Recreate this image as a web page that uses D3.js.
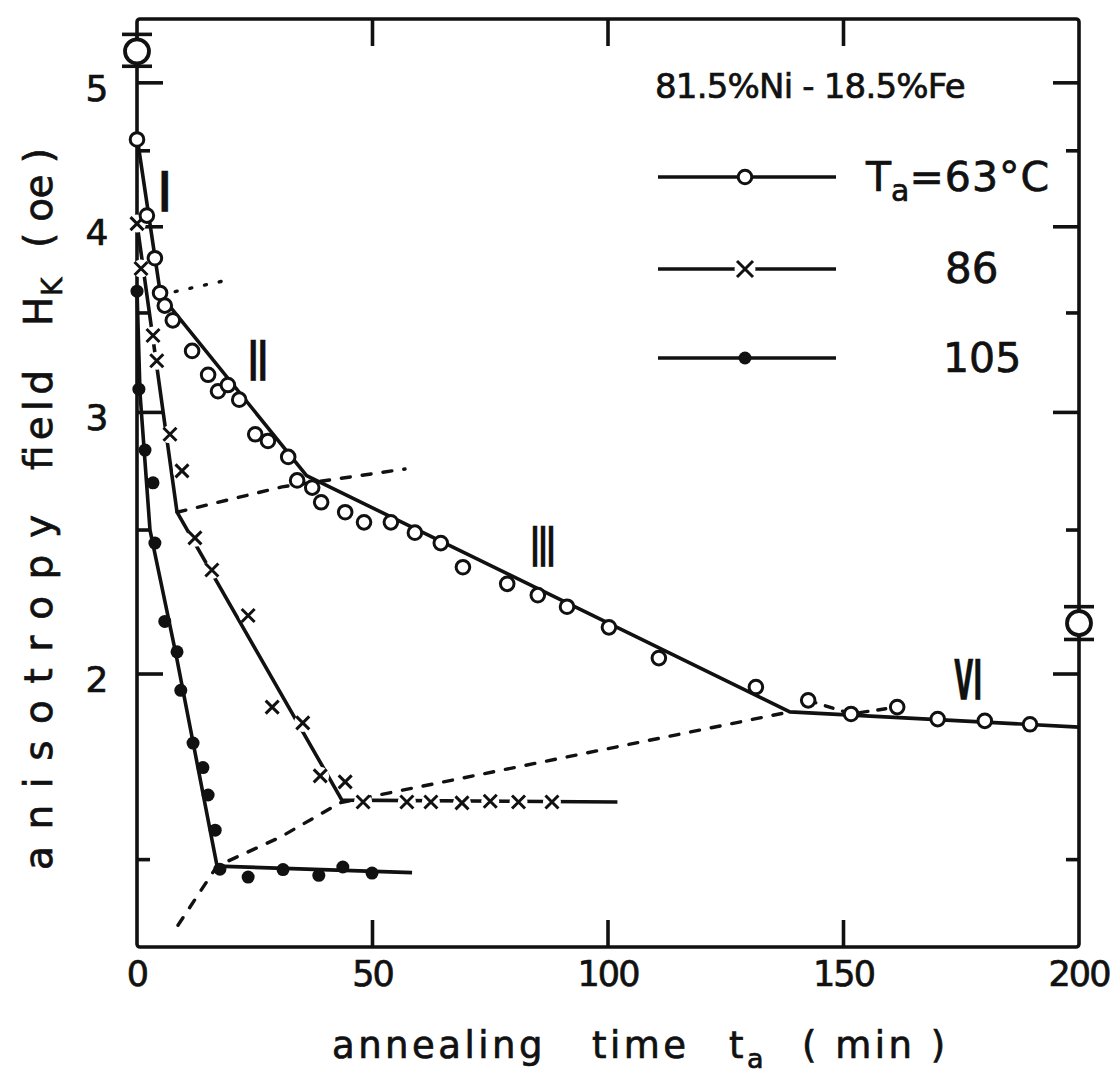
<!DOCTYPE html>
<html>
<head>
<meta charset="utf-8">
<script src="https://cdn.jsdelivr.net/npm/d3@7"></script>
<style>
  html, body { margin: 0; padding: 0; background: #fff; }
  svg { display: block; }
  text { font-family: "DejaVu Sans", "Liberation Sans", sans-serif; fill: #111; stroke: #111; stroke-width: 0.7px; }
</style>
</head>
<body>
<svg id="chart" width="1114" height="1085"></svg>
<script>
// ---- axis ticks ----
const xTicks = [0, 50, 100, 150, 200];
const yMajorTicks = [2, 3, 4, 5];
const yMinorTicks = [1.5, 2.5, 3.5, 4.5];

// ---- measured points: annealing time (min) vs anisotropy field Hk (oe) ----
// Ta = 63 C (open circles)
const t63  = [0, 2.1, 3.8, 4.9, 5.9, 7.6, 11.7, 15.1, 17.2, 19.3, 21.7, 25.1, 27.8, 32.1, 34.0, 37.2, 39.1,
              44.2, 48.2, 53.9, 59.0, 64.5, 69.2, 78.6, 85.1, 91.3, 100.2, 110.8, 131.4, 142.5, 151.6, 161.4,
              170.0, 180.0, 189.6];
const hk63 = [4.58, 4.07, 3.81, 3.61, 3.54, 3.46, 3.30, 3.18, 3.10, 3.13, 3.06, 2.90, 2.87, 2.80, 2.70, 2.67, 2.61,
              2.57, 2.53, 2.53, 2.49, 2.45, 2.36, 2.30, 2.26, 2.22, 2.15, 2.05, 1.96, 1.92, 1.88, 1.90,
              1.865, 1.86, 1.85];
// Ta = 86 C (crosses)
const t86  = [0, 0.85, 3.4, 4.2, 7.0, 9.55, 12.3, 15.9, 23.6, 28.7, 35.2, 38.9, 44.2, 48.0, 57.3, 62.4, 69.0, 75.0, 81.0, 88.1];
const hk86 = [4.02, 3.75, 3.38, 3.25, 2.90, 2.74, 2.47, 2.35, 2.19, 1.90, 1.854, 1.708, 1.692, 1.64, 1.64, 1.64, 1.638, 1.642, 1.64, 1.64];
// Ta = 105 C (filled dots)
const t105  = [0, 0.4, 1.7, 3.4, 3.8, 5.9, 8.5, 9.3, 11.9, 14.0, 15.1, 16.6, 17.6, 23.6, 31.0, 38.6, 43.7, 49.9];
const hk105 = [3.62, 3.11, 2.83, 2.69, 2.45, 2.17, 2.07, 1.95, 1.797, 1.73, 1.658, 1.57, 1.478, 1.46, 1.477, 1.464, 1.483, 1.469];

// ---- piecewise fitted stages ----
const fit63T  = [0, 5, 36, 138.6, 200];
const fit63H  = [4.6, 3.6, 2.72, 1.886, 1.842];
const fit86T  = [0, 8.5, 43.5, 102];
const fit86H  = [4.02, 2.57, 1.645, 1.64];
const fit105T = [0, 0.64, 2.76, 8.3, 17.0, 58.4];
const fit105H = [3.63, 3.09, 2.50, 2.06, 1.485, 1.47];

// ---- guide lines joining the stage break points ----
const guideLowT  = [8.7, 17.0, 30.4, 43.1, 138.6];
const guideLowH  = [1.355, 1.485, 1.553, 1.638, 1.886];
const guideMidT  = [8.5, 30.8, 56.9];
const guideMidH  = [2.57, 2.673, 2.748];
const guideTopT  = [5, 18.7];
const guideTopH  = [3.6, 3.68];
const guideVIT   = [142.5, 151.6, 161.4];
const guideVIH   = [1.92, 1.88, 1.90];

// ---- reference values with error bars (start and end) ----
const refT   = [0, 200];
const refH   = [5.25, 2.164];
const refLo  = [5.13, 2.11];
const refHi  = [5.39, 2.22];

// ---- stage labels ----
const stageNames = ["I", "II", "III", "VI"];
const stageT     = [5.9, 25.7, 86.2, 176.5];
const stageH     = [4.22, 3.25, 2.435, 1.98];

// ---- legend ----
const alloyLabel = "81.5%Ni - 18.5%Fe";
const legendTemps = ["63", "86", "105"];

const zip = (a, b) => a.map((v, i) => [v, b[i]]);

const svg = d3.select("#chart");
const plotLeft = 137, plotRight = 1079, plotTop = 19, plotBottom = 947;

const x = d3.scaleLinear().domain([0, 200]).range([plotLeft, plotRight]);
const y = d3.scaleLog().domain([1.31, 5.52]).range([plotBottom, plotTop]);

const ink = "#111";
const lw = 3.6;
const line = d3.line().x(d => x(d[0])).y(d => y(d[1]));

// ---- frame ----
svg.append("rect")
  .attr("x", plotLeft).attr("y", plotTop)
  .attr("width", plotRight - plotLeft).attr("height", plotBottom - plotTop)
  .attr("fill", "none").attr("stroke", ink).attr("stroke-width", lw)
  .attr("rx", 3);

// ticks pointing inward on all sides
const yMajLen = 26, yMinLen = 13, xLen = 27;
const axG = svg.append("g").attr("stroke", ink).attr("stroke-width", lw);
yMajorTicks.forEach(v => {
  axG.append("line").attr("x1", plotLeft).attr("x2", plotLeft + yMajLen).attr("y1", y(v)).attr("y2", y(v));
  axG.append("line").attr("x1", plotRight).attr("x2", plotRight - yMajLen).attr("y1", y(v)).attr("y2", y(v));
});
yMinorTicks.forEach(v => {
  axG.append("line").attr("x1", plotLeft).attr("x2", plotLeft + yMinLen).attr("y1", y(v)).attr("y2", y(v));
  axG.append("line").attr("x1", plotRight).attr("x2", plotRight - yMinLen).attr("y1", y(v)).attr("y2", y(v));
});
xTicks.slice(1, -1).forEach(v => {
  axG.append("line").attr("x1", x(v)).attr("x2", x(v)).attr("y1", plotBottom).attr("y2", plotBottom - xLen);
  axG.append("line").attr("x1", x(v)).attr("x2", x(v)).attr("y1", plotTop).attr("y2", plotTop + xLen);
});

// tick labels
svg.append("g").selectAll("text").data(yMajorTicks).join("text")
  .attr("x", 97).attr("y", d => y(d) + 8)
  .attr("text-anchor", "middle").attr("dominant-baseline", "middle")
  .attr("font-size", 36).text(d => d);
svg.append("g").selectAll("text").data(xTicks).join("text")
  .attr("x", d => x(d)).attr("y", 976)
  .attr("text-anchor", "middle").attr("dominant-baseline", "middle")
  .attr("font-size", 35).attr("letter-spacing", -2).text(d => d);

// axis titles
const xt = svg.append("text").attr("y", 1058).attr("font-size", 37).attr("letter-spacing", 3.5);
xt.append("tspan").attr("x", 332).text("annealing");
xt.append("tspan").attr("x", 592).text("time");
xt.append("tspan").attr("x", 729).text("t");
xt.append("tspan").attr("dy", 10).attr("font-size", 27).text("a");
xt.append("tspan").attr("x", 802).attr("dy", -10).text("( min )");

// vertical title, each word pinned along the axis
const yTitle = svg.append("g").attr("transform", "translate(52,0) rotate(-90)");
function yWord(str, from, to, size) {
  return yTitle.append("text").attr("x", -from).attr("y", 0).attr("font-size", size)
    .attr("textLength", from - to).attr("lengthAdjust", "spacing").text(str);
}
yWord("anisotropy", 870, 515, 39);
yWord("field", 470, 370, 39);
yWord("H", 326, 298, 39);
yTitle.append("text").attr("x", -296).attr("y", 10).attr("font-size", 28).text("K");
yWord("( oe )", 248, 148, 39);

// ---- guide lines ----
const guides = svg.append("g").attr("fill", "none").attr("stroke", ink).attr("stroke-width", 3.4)
  .attr("stroke-linecap", "round");
guides.append("path").attr("d", line(zip(guideLowT, guideLowH))).attr("stroke-dasharray", "9 12");
guides.append("path").attr("d", line(zip(guideMidT, guideMidH))).attr("stroke-dasharray", "9 12");
guides.append("path").attr("d", line(zip(guideTopT, guideTopH))).attr("stroke-dasharray", "2 13");
guides.append("path").attr("d", line(zip(guideVIT, guideVIH))).attr("stroke-dasharray", "8 10");

// ---- fitted stage lines ----
const fits = svg.append("g").attr("fill", "none").attr("stroke", ink).attr("stroke-width", lw)
  .attr("stroke-linejoin", "round");
fits.append("path").attr("d", line(zip(fit63T, fit63H)));
fits.append("path").attr("d", line(zip(fit86T, fit86H)));
fits.append("path").attr("d", line(zip(fit105T, fit105H)));

// ---- markers ----
const marks = svg.append("g");
function openCircle(g, cx, cy) {
  g.append("circle").attr("cx", cx).attr("cy", cy).attr("r", 6.8)
    .attr("fill", "#fff").attr("stroke", ink).attr("stroke-width", 3);
}
function cross(g, cx, cy, s = 6.5) {
  g.append("circle").attr("cx", cx).attr("cy", cy).attr("r", s + 2.5).attr("fill", "#fff");
  g.append("path").attr("d", `M${cx - s},${cy - s}L${cx + s},${cy + s}M${cx - s},${cy + s}L${cx + s},${cy - s}`)
    .attr("stroke", ink).attr("stroke-width", 3).attr("fill", "none");
}
function dot(g, cx, cy) {
  g.append("circle").attr("cx", cx).attr("cy", cy).attr("r", 6.5).attr("fill", ink);
}
zip(t86, hk86).forEach(d => cross(marks, x(d[0]), y(d[1])));
zip(t105, hk105).forEach(d => dot(marks, x(d[0]), y(d[1])));
zip(t63, hk63).forEach(d => openCircle(marks, x(d[0]), y(d[1])));

// ---- reference values with error bars ----
const refs = svg.append("g");
refT.forEach((t, i) => {
  const cx = x(t), cy = y(refH[i]), y0 = y(refHi[i]), y1 = y(refLo[i]);
  refs.append("line").attr("x1", cx).attr("x2", cx).attr("y1", y0).attr("y2", y1)
    .attr("stroke", ink).attr("stroke-width", 3.2);
  [y0, y1].forEach(yy => refs.append("line").attr("x1", cx - 15).attr("x2", cx + 15)
    .attr("y1", yy).attr("y2", yy).attr("stroke", ink).attr("stroke-width", 3.6));
  refs.append("circle").attr("cx", cx).attr("cy", cy).attr("r", 12)
    .attr("fill", "#fff").attr("stroke", ink).attr("stroke-width", 3.8);
});

// ---- stage labels ----
const stageWidth = { "I": 12, "II": 19, "III": 24, "VI": 28 };
svg.append("g").selectAll("text").data(stageNames).join("text")
  .attr("x", (d, i) => x(stageT[i]) - stageWidth[d] / 2)
  .attr("y", (d, i) => y(stageH[i]) + 19)
  .attr("font-family", "Liberation Serif, DejaVu Serif, serif")
  .attr("font-weight", "bold").attr("font-size", 56)
  .attr("textLength", d => stageWidth[d]).attr("lengthAdjust", "spacingAndGlyphs")
  .text(d => d);

// ---- legend ----
svg.append("text").attr("x", 655).attr("y", 98).attr("font-size", 34).attr("letter-spacing", -0.8)
  .text(alloyLabel);

const legY = [177, 269, 358];
const lg = svg.append("g");
legY.forEach((ly, i) => {
  lg.append("line").attr("x1", 658).attr("x2", 836).attr("y1", ly).attr("y2", ly)
    .attr("stroke", ink).attr("stroke-width", lw);
  if (i === 0) openCircle(lg, 745, ly);
  if (i === 1) cross(lg, 745, ly, 8);
  if (i === 2) dot(lg, 745, ly);
});
const l0 = lg.append("text").attr("x", 866).attr("y", legY[0] + 14).attr("font-size", 41);
l0.append("tspan").text("T");
l0.append("tspan").attr("dy", 10).attr("font-size", 30).text("a");
l0.append("tspan").attr("dy", -10).attr("letter-spacing", 1).text("=63°C");
lg.append("text").attr("x", 945).attr("y", legY[1] + 14).attr("font-size", 42).text(legendTemps[1]);
lg.append("text").attr("x", 943).attr("y", legY[2] + 14).attr("font-size", 41).text(legendTemps[2]);
</script>
</body>
</html>
